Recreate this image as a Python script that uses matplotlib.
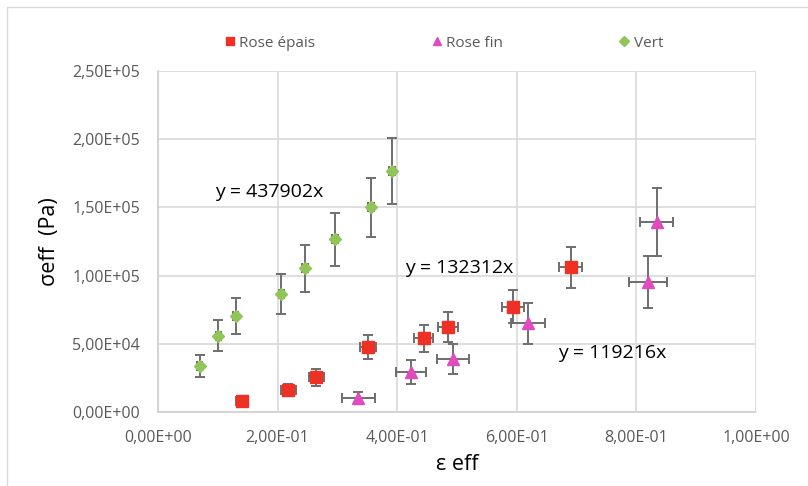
"""Effective stress vs effective strain for the three sample types."""

import matplotlib.pyplot as plt
from matplotlib.patches import Rectangle
from matplotlib.ticker import FixedLocator, FuncFormatter

# Rose épais
epais_x = [0.140, 0.218, 0.265, 0.351, 0.444, 0.485, 0.594, 0.690]
epais_y = [8100, 16100, 25400, 47400, 54000, 62300, 77000, 106100]
epais_xerr = [0.010, 0.012, 0.012, 0.013, 0.016, 0.016, 0.018, 0.019]
epais_yerr = [1800, 4200, 6200, 8900, 9700, 10700, 12100, 15200]

# Rose fin
fin_x = [0.335, 0.423, 0.493, 0.619, 0.820, 0.834]
fin_y = [10000, 29500, 38900, 65000, 95100, 139500]
fin_xerr = [0.028, 0.025, 0.027, 0.028, 0.032, 0.028]
fin_yerr = [4300, 8900, 10700, 15000, 19000, 24900]

# Vert
vert_x = [0.070, 0.101, 0.130, 0.206, 0.245, 0.296, 0.357, 0.392]
vert_y = [33700, 55900, 70400, 86500, 105300, 126600, 150000, 176700]
vert_xerr = [0.004, 0.004, 0.004, 0.004, 0.005, 0.005, 0.005, 0.005]
vert_yerr = [8000, 11400, 13200, 15000, 17200, 19600, 21800, 24200]

slope_labels = ["y = 437902x", "y = 132312x", "y = 119216x"]
slope_pos = [(0.095, 161300), (0.413, 105600), (0.669, 43200)]

x_ticks = [0.0, 0.2, 0.4, 0.6, 0.8, 1.0]
y_ticks = [0, 50000, 100000, 150000, 200000, 250000]


def excel_sci(value, _pos):
    mantissa, exponent = f"{value:.2E}".split("E")
    sign = exponent[0]
    return f"{mantissa.replace('.', ',')}E{sign}{int(exponent[1:]):02d}"


plt.rcParams["font.family"] = ["Open Sans", "DejaVu Sans"]

fig = plt.figure(figsize=(8.08, 4.86), dpi=100)
fig.patches.append(Rectangle((7 / 808, -0.1), 1.2, (486 - 7) / 486 + 0.1,
                             transform=fig.transFigure, fill=False,
                             edgecolor="#d9d9d9", linewidth=1.0))
ax = fig.add_axes([158 / 808, 74 / 486, 598 / 808, 341 / 486])

err_style = dict(ecolor="#6e6e6e", elinewidth=1.4, capsize=3.5, capthick=1.4, linestyle="none")

ax.errorbar(epais_x, epais_y, xerr=epais_xerr, yerr=epais_yerr, marker="s",
            markersize=8, color="#ee3124", markeredgecolor="#ee3124",
            label="Rose épais", zorder=3, **err_style)
ax.errorbar(fin_x, fin_y, xerr=fin_xerr, yerr=fin_yerr, marker="^",
            markersize=8, color="#e04bbf", markeredgecolor="#e04bbf",
            label="Rose fin", zorder=3, **err_style)
ax.errorbar(vert_x, vert_y, xerr=vert_xerr, yerr=vert_yerr, marker="D",
            markersize=6, color="#92c558", markeredgecolor="#92c558",
            label="Vert", zorder=3, **err_style)

for label, (tx, ty) in zip(slope_labels, slope_pos):
    ax.text(tx, ty, label, fontsize=14, color="black", ha="left", va="center")

ax.set_xlim(0, 1.0)
ax.set_ylim(0, 250000)
ax.xaxis.set_major_locator(FixedLocator(x_ticks))
ax.yaxis.set_major_locator(FixedLocator(y_ticks))
ax.xaxis.set_major_formatter(FuncFormatter(excel_sci))
ax.yaxis.set_major_formatter(FuncFormatter(excel_sci))
ax.tick_params(axis="both", length=0, labelsize=11.5, labelcolor="#595959")
ax.tick_params(axis="x", pad=13)
ax.tick_params(axis="y", pad=13)

ax.grid(True, color="#d9d9d9", linewidth=1.2)
ax.set_axisbelow(True)
for side in ["top", "right"]:
    ax.spines[side].set_visible(False)
for side in ["left", "bottom"]:
    ax.spines[side].set_color("#d0d0d0")
    ax.spines[side].set_linewidth(1.2)

ax.set_xlabel("ε eff", fontsize=15.5, labelpad=6)
ax.set_ylabel("σeff  (Pa)", fontsize=15.5, labelpad=9)

handles, labels = ax.get_legend_handles_labels()
handles = [h[0] for h in handles]
fig.legend(handles, labels, loc="center", bbox_to_anchor=(0.55, 0.911), ncol=3,
           frameon=False, fontsize=11, labelcolor="#595959", handlelength=0.6,
           handletextpad=0.3, columnspacing=7.65, markerscale=0.8)

fig.savefig("out.png", dpi=100)
